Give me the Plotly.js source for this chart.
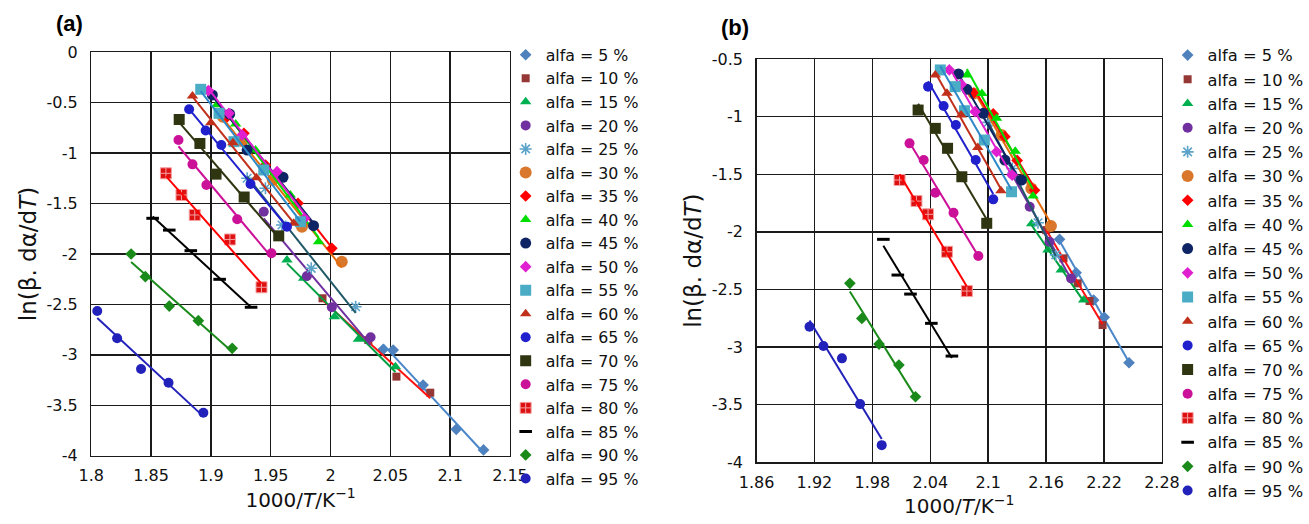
<!DOCTYPE html>
<html>
<head>
<meta charset="utf-8">
<script src="https://cdn.plot.ly/plotly-3.0.1.min.js"></script>
<style>html,body{margin:0;padding:0;background:#fff;}#chart{width:1309px;height:524px;}</style>
</head>
<body>
<div id="chart"></div>
<script>
// ---- data ----
const alphaLevels = [5, 10, 15, 20, 25, 30, 35, 40, 45, 50, 55, 60, 65, 70, 75, 80, 85, 90, 95];

// tick values
const aYTicks = [0, -0.5, -1, -1.5, -2, -2.5, -3, -3.5, -4];
const bYTicks = [-0.5, -1, -1.5, -2, -2.5, -3, -3.5, -4];

// Panel (a): 1000/T values per alpha
const aX = [
  [2.0441, 2.0524, 2.0774, 2.1051, 2.1279],
  [1.9933, 2.0316, 2.0551, 2.0834],
  [1.9636, 1.9775, 2.0033, 2.0233, 2.0543],
  [1.9442, 1.9803, 2.0011, 2.0335],
  [1.9303, 1.9456, 1.9594, 1.9839, 2.0210],
  [1.9100, 1.9262, 1.9517, 1.9761, 2.0094],
  [1.9137, 1.9276, 1.9456, 1.9728, 2.0011],
  [1.9050, 1.9207, 1.9373, 1.9664, 1.9900],
  [1.9012, 1.9157, 1.9303, 1.9603, 1.9858],
  [1.8979, 1.9151, 1.9262, 1.9553, 1.9783],
  [1.8915, 1.9068, 1.9193, 1.9442, 1.9748],
  [1.8846, 1.8999, 1.9184, 1.9381, 1.9692],
  [1.8818, 1.8956, 1.9087, 1.9331, 1.9636],
  [1.8735, 1.8908, 1.9043, 1.9278, 1.9567],
  [1.8729, 1.8846, 1.8962, 1.9220, 1.9506],
  [1.8624, 1.8754, 1.8865, 1.9159, 1.9423],
  [1.8513, 1.8652, 1.8832, 1.9073, 1.9336],
  [1.8333, 1.8452, 1.8652, 1.8895, 1.9178],
  [1.8050, 1.8216, 1.8416, 1.8646, 1.8937]
];
// Panel (a): ln(beta dalpha/dT) values per alpha
const aY = [
  [-2.945, -2.952, -3.299, -3.738, -3.943],
  [-2.439, -2.853, -3.216, -3.375],
  [-2.059, -2.241, -2.622, -2.846, -3.117],
  [-1.581, -2.218, -2.528, -2.826],
  [-1.249, -1.348, -1.712, -2.142, -2.523],
  [-0.640, -0.880, -1.266, -1.729, -2.076],
  [-0.638, -0.803, -1.118, -1.497, -1.944],
  [-0.520, -0.711, -0.969, -1.415, -1.878],
  [-0.423, -0.612, -0.969, -1.239, -1.719],
  [-0.380, -0.605, -0.820, -1.184, -1.646],
  [-0.367, -0.605, -0.886, -1.167, -1.680],
  [-0.433, -0.698, -0.896, -1.243, -1.696],
  [-0.564, -0.776, -0.919, -1.306, -1.729],
  [-0.666, -0.904, -1.208, -1.435, -1.820],
  [-0.870, -1.111, -1.316, -1.656, -1.993],
  [-1.200, -1.415, -1.613, -1.856, -2.330],
  [-1.646, -1.763, -1.967, -2.251, -2.528],
  [-2.000, -2.225, -2.516, -2.661, -2.935],
  [-2.565, -2.836, -3.140, -3.276, -3.574]
];

// Panel (b)
const bX = [
  [2.1739, 2.1911, 2.2092, 2.2202, 2.2459],
  [2.1600, 2.1780, 2.1927, 2.2050, 2.2185],
  [2.1450, 2.1619, 2.1756, 2.1989],
  [2.1250, 2.1430, 2.1636, 2.1859],
  [2.1000, 2.1250, 2.1516, 2.1700],
  [2.0850, 2.1139, 2.1447, 2.1650],
  [2.0847, 2.1052, 2.1173, 2.1300, 2.1480],
  [2.0779, 2.0935, 2.1087, 2.1280, 2.1465],
  [2.0692, 2.0779, 2.0949, 2.1173, 2.1345],
  [2.0597, 2.0720, 2.0864, 2.1087, 2.1248],
  [2.0504, 2.0658, 2.0754, 2.0960, 2.1242],
  [2.0452, 2.0573, 2.0720, 2.0892, 2.1132],
  [2.0377, 2.0538, 2.0665, 2.0871, 2.1052],
  [2.0274, 2.0452, 2.0579, 2.0727, 2.0985],
  [2.0185, 2.0332, 2.0452, 2.0641, 2.0898],
  [2.0082, 2.0257, 2.0377, 2.0573, 2.0779],
  [1.9914, 2.0064, 2.0195, 2.0411, 2.0624],
  [1.9567, 1.9691, 1.9869, 2.0075, 2.0247],
  [1.9149, 1.9293, 1.9485, 1.9673, 1.9897]
];
const bY = [
  [-2.065, -2.355, -2.592, -2.742, -3.136],
  [-1.985, -2.230, -2.447, -2.600, -2.809],
  [-1.930, -2.158, -2.332, -2.592],
  [-1.500, -1.782, -2.086, -2.404],
  [-1.050, -1.450, -1.921, -2.200],
  [-0.800, -1.160, -1.623, -1.950],
  [-0.798, -0.977, -1.174, -1.380, -1.640],
  [-0.639, -0.800, -1.015, -1.300, -1.689],
  [-0.630, -0.763, -0.971, -1.377, -1.550],
  [-0.595, -0.720, -0.957, -1.305, -1.507],
  [-0.595, -0.740, -0.949, -1.203, -1.652],
  [-0.639, -0.798, -0.986, -1.267, -1.643],
  [-0.740, -0.908, -1.073, -1.377, -1.718],
  [-0.943, -1.102, -1.275, -1.522, -1.926],
  [-1.232, -1.377, -1.661, -1.834, -2.210],
  [-1.550, -1.733, -1.848, -2.173, -2.514],
  [-2.065, -2.375, -2.540, -2.794, -3.078],
  [-2.447, -2.751, -2.974, -3.156, -3.431],
  [-2.824, -2.991, -3.098, -3.495, -3.851]
];

const xTitle = '1000/<i>T</i>/K<sup>\u22121</sup>';
const yTitle = 'ln(\u03b2. d\u03b1/d<i>T</i>)';

// ---- styles ----
const markerColors = ['#4F81BD','#953735','#00B050','#7030A0','#5BA3C9','#D9782D','#FF0000','#00DD00','#0F2465','#E020D0','#4BACC6','#C0301A','#2020CC','#2E3510','#CC1199','#DD1111','#000000','#1A8A1A','#2222BB'];
const lineColors   = ['#4A86C8','#FF1010','#00A040','#7030A0','#215968','#E46C0A','#FF0000','#00DD00','#0F2465','#E020D0','#2E88C8','#C0301A','#2020CC','#2E3510','#CC1199','#FF0000','#000000','#1A8A1A','#2222BB'];
const symbols = ['diamond','square','triangle-up','circle','asterisk-open','circle','diamond','triangle-up','circle','diamond','square','triangle-up','circle','square','circle','square-cross','line-ew','diamond','circle'];
const sizes   = [9, 8, 10, 10, 10, 12, 9, 10, 11, 9, 11, 10, 10, 11, 10, 11, 9, 9, 10];

const FONT = '"DejaVu Sans", Arial, sans-serif';

function fit(xs, ys) {
  const n = xs.length;
  let sx = 0, sy = 0, sxx = 0, sxy = 0;
  for (let i = 0; i < n; i++) { sx += xs[i]; sy += ys[i]; sxx += xs[i]*xs[i]; sxy += xs[i]*ys[i]; }
  const m = (n*sxy - sx*sy) / (n*sxx - sx*sx);
  const b = (sy - m*sx) / n;
  const x0 = Math.min(...xs), x1 = Math.max(...xs);
  return {x: [x0, x1], y: [m*x0 + b, m*x1 + b]};
}

function markerFor(i) {
  const mk = {symbol: symbols[i], size: sizes[i], color: markerColors[i]};
  if (symbols[i] === 'asterisk-open') mk.line = {color: markerColors[i], width: 1.6};
  else if (symbols[i] === 'line-ew') mk.line = {color: '#000', width: 3};
  else if (symbols[i] === 'square-cross') mk.line = {color: '#F4A0A0', width: 1};
  else mk.line = {width: 0};
  return mk;
}

const traces = [];
function addPanel(X, Y, xa, ya, leg) {
  for (let i = 0; i < alphaLevels.length; i++) {
    traces.push({
      type: 'scatter', mode: 'markers', x: X[i], y: Y[i], xaxis: xa, yaxis: ya,
      name: 'alfa = ' + alphaLevels[i] + ' %', legend: leg,
      marker: markerFor(i), cliponaxis: false
    });
    const f = fit(X[i], Y[i]);
    traces.push({
      type: 'scatter', mode: 'lines', x: f.x, y: f.y, xaxis: xa, yaxis: ya,
      showlegend: false, legend: leg, hoverinfo: 'skip',
      line: {color: lineColors[i], width: 2}
    });
  }
}
addPanel(aX, aY, 'x', 'y', 'legend');
addPanel(bX, bY, 'x2', 'y2', 'legend2');

const W = 1309, H = 524;
const px = v => v / W, py = v => 1 - v / H;

const axisBase = {
  showgrid: true, gridcolor: '#1a1a1a', gridwidth: 1.4,
  showline: true, linecolor: '#1a1a1a', linewidth: 1.4, mirror: true,
  zeroline: false, ticks: '', tickfont: {family: FONT, size: 16, color: '#111'},
  automargin: false
};
const titleFontX = {family: FONT, size: 20, color: '#111'};
const titleFontY = {family: FONT, size: 23, color: '#111'};

const layout = {
  width: W, height: H,
  margin: {l: 0, r: 0, t: 0, b: 0},
  paper_bgcolor: '#fff', plot_bgcolor: '#fff',
  font: {family: FONT, color: '#111'},
  xaxis: Object.assign({}, axisBase, {
    domain: [px(91.7), px(512.3)], anchor: 'y', range: [1.8, 2.15], tick0: 1.8, dtick: 0.05,
    ticklabelstandoff: 5,
    title: {text: xTitle, font: titleFontX, standoff: 5}
  }),
  yaxis: Object.assign({}, axisBase, {
    domain: [py(455.7), py(52.3)], anchor: 'x', range: [-4, 0],
    tickmode: 'array', tickvals: aYTicks, ticktext: aYTicks.map(String),
    ticklabelstandoff: 9,
    title: {text: yTitle, font: titleFontY, standoff: 3}
  }),
  xaxis2: Object.assign({}, axisBase, {
    domain: [px(760), px(1167.3)], anchor: 'y2', range: [1.86, 2.28], tick0: 1.86, dtick: 0.06,
    ticklabelstandoff: 5,
    title: {text: xTitle, font: titleFontX, standoff: 5}
  }),
  yaxis2: Object.assign({}, axisBase, {
    domain: [py(462.3), py(59)], anchor: 'x2', range: [-4, -0.5],
    tickmode: 'array', tickvals: bYTicks, ticktext: bYTicks.map(String),
    ticklabelstandoff: 9,
    title: {text: yTitle, font: titleFontY, standoff: 3}
  }),
  legend: {
    x: px(508), xanchor: 'left', y: py(38), yanchor: 'top',
    font: {family: FONT, size: 15.8, color: '#111'}, bgcolor: 'rgba(0,0,0,0)', borderwidth: 0
  },
  legend2: {
    x: px(1173), xanchor: 'left', y: py(38), yanchor: 'top',
    font: {family: FONT, size: 16.3, color: '#111'}, bgcolor: 'rgba(0,0,0,0)', borderwidth: 0
  },
  annotations: [
    {text: '<b>(a)</b>', xref: 'paper', yref: 'paper', x: px(70), y: py(24), xanchor: 'center', yanchor: 'middle',
     showarrow: false, font: {family: 'Arial, "Liberation Sans", sans-serif', size: 22, color: '#000'}},
    {text: '<b>(b)</b>', xref: 'paper', yref: 'paper', x: px(738), y: py(28), xanchor: 'center', yanchor: 'middle',
     showarrow: false, font: {family: 'Arial, "Liberation Sans", sans-serif', size: 22, color: '#000'}}
  ],
  showlegend: true
};

Plotly.newPlot('chart', traces, layout, {displayModeBar: false, staticPlot: true});
</script>
</body>
</html>
